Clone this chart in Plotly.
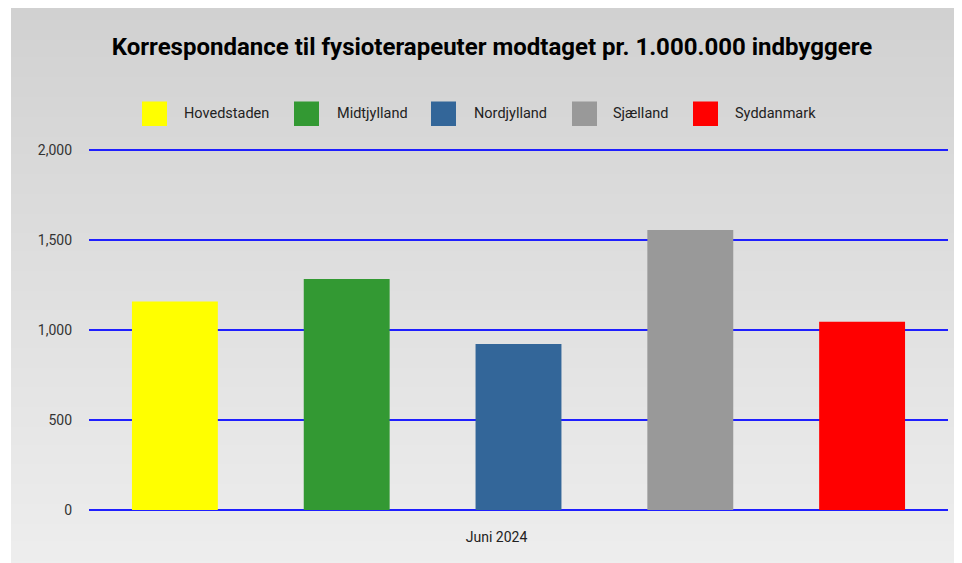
import base64
import struct
import zlib

import plotly.graph_objects as go

# ---------------- data ----------------
categories = ["Juni 2024"]
regions = ["Hovedstaden", "Midtjylland", "Nordjylland", "Sjælland", "Syddanmark"]
values = [1159, 1283, 922, 1556, 1046]
colors = ["#ffff00", "#339933", "#336699", "#999999", "#ff0000"]
y_ticks = [0, 500, 1000, 1500, 2000]
title_text = "Korrespondance til fysioterapeuter modtaget pr. 1.000.000 indbyggere"

# ---------------- layout geometry (pixels, in page coordinates) ----------------
OFF = 8  # page body margin offset
W, H = 962, 563
PL, PR, PT, PB = 89 - OFF, 948 - OFF, 150 - OFF, 510 - OFF  # plot area (2000 -> PT, 0 -> PB)
HEAD = 2  # px of headroom above 2000 so the top gridline is drawn
y_top = 2000 + HEAD * 2000 / (PB - PT)
PT_EFF = PT - HEAD


def px_x(px):
    return (px - OFF - PL) / (PR - PL)


def px_y(py):
    return (PB - (py - OFF)) / (PB - PT_EFF)


def gradient_png(top, bottom, n=256):
    rows = b""
    for i in range(n):
        t = i / (n - 1)
        c = [round(top[k] + (bottom[k] - top[k]) * t) for k in range(3)]
        rows += b"\x00" + bytes(c)

    def chunk(tag, data):
        return (struct.pack(">I", len(data)) + tag + data
                + struct.pack(">I", zlib.crc32(tag + data) & 0xFFFFFFFF))

    png = b"\x89PNG\r\n\x1a\n"
    png += chunk(b"IHDR", struct.pack(">IIBBBBB", 1, n, 8, 2, 0, 0, 0))
    png += chunk(b"IDAT", zlib.compress(rows))
    png += chunk(b"IEND", b"")
    return "data:image/png;base64," + base64.b64encode(png).decode()


fig = go.Figure()
for name, val, col in zip(regions, values, colors):
    fig.add_trace(go.Bar(
        x=categories, y=[val], name=name,
        marker=dict(color=col, line=dict(width=0)),
        showlegend=False,
    ))

# manual legend (large squares)
legend_sq_x = [142, 294, 431, 572, 693]
legend_txt_x = [183, 336, 473, 612, 734]
shapes = []
annotations = []
for name, col, sx, tx in zip(regions, colors, legend_sq_x, legend_txt_x):
    shapes.append(dict(
        type="rect", xref="paper", yref="paper",
        x0=px_x(sx), x1=px_x(sx + 25), y0=px_y(126), y1=px_y(101.5),
        fillcolor=col, line=dict(width=0), layer="above",
    ))
    annotations.append(dict(
        x=px_x(tx - 1), y=px_y(114), xref="paper", yref="paper",
        text=name, showarrow=False, xanchor="left", yanchor="middle",
        font=dict(family="Roboto", size=14.5, color="#222222"),
    ))

fig.update_layout(
    width=W, height=H,
    margin=dict(l=PL, r=W - PR, t=PT_EFF, b=H - PB, pad=0),
    paper_bgcolor="#ffffff",
    plot_bgcolor="rgba(0,0,0,0)",
    barmode="group", bargap=0, bargroupgap=0.5,
    font=dict(family="Roboto", color="#333333"),
    title=dict(
        text="<b>" + title_text + "</b>",
        x=(492 - OFF) / W, xanchor="center", y=1 - (47 - OFF) / H, yanchor="middle",
        font=dict(family="Roboto", size=24, color="#000000"),
    ),
    shapes=shapes,
    annotations=annotations,
    images=[dict(
        source=gradient_png((209, 209, 209), (238, 238, 238)),
        xref="paper", yref="paper",
        x=px_x(11), y=px_y(8),
        sizex=px_x(W + OFF) - px_x(11), sizey=px_y(8) - px_y(H + OFF),
        xanchor="left", yanchor="top", sizing="stretch", layer="below",
    )],
    showlegend=False,
)

fig.update_yaxes(
    range=[0, y_top], tickvals=y_ticks, tickformat=",",
    showgrid=True, gridcolor="#1f1fff", gridwidth=1.6,
    zeroline=True, zerolinecolor="#1f1fff", zerolinewidth=1.6,
    showline=False, ticks="", ticklabelstandoff=16,
    tickfont=dict(family="Roboto", size=14, color="#333333"),
)
fig.update_xaxes(
    showgrid=False, showline=False, ticks="",
    ticklabelstandoff=17, ticklabelshift=-22,
    tickfont=dict(family="Roboto", size=14, color="#222222"),
)

fig.write_html("out.html")
